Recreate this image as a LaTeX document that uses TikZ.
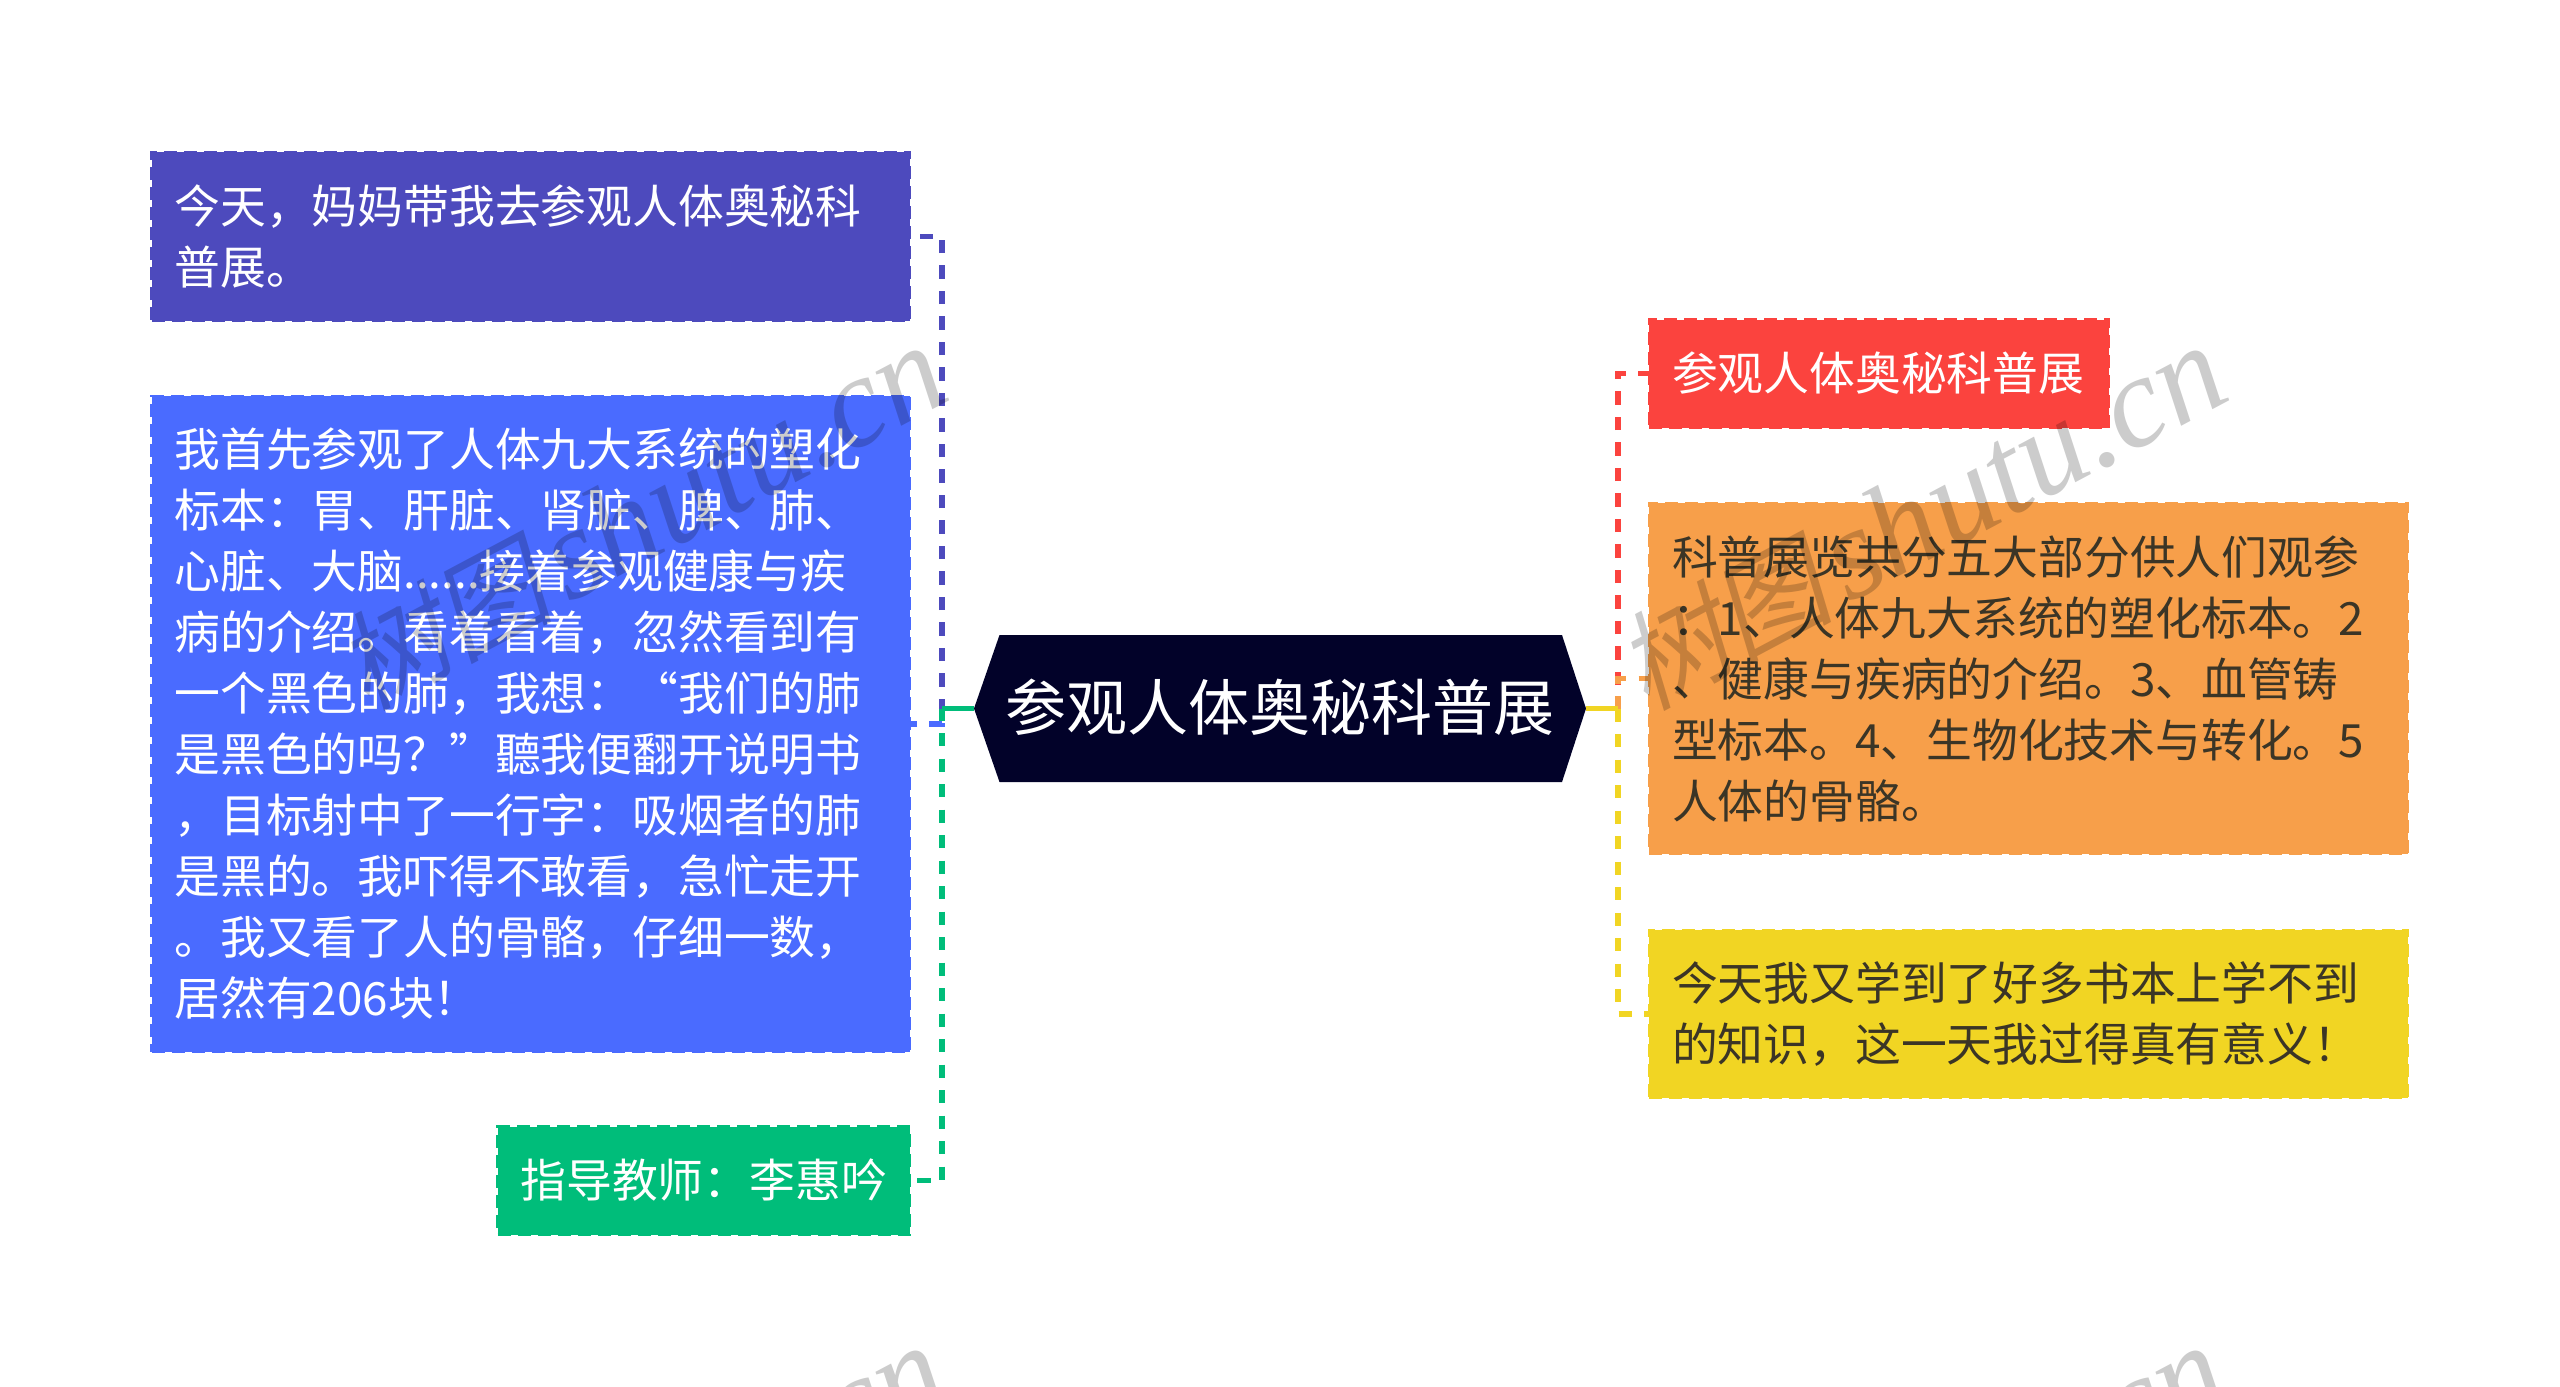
\documentclass[tikz,border=0pt]{standalone}
\usepackage{fontspec}
\newfontfamily\cjk{Noto Sans CJK SC}
\newfontfamily\wmlat{Liberation Serif}[ItalicFont=* Italic]
\newfontfamily\wmcjk{Noto Sans CJK SC}[FakeSlant=0.2]
\definecolor{cA}{HTML}{4D4ABD}
\definecolor{cB}{HTML}{4A6BFF}
\definecolor{cC}{HTML}{00BD7A}
\definecolor{cD}{HTML}{FB433E}
\definecolor{cE}{HTML}{F79F4A}
\definecolor{cF}{HTML}{F1D523}
\definecolor{cRoot}{HTML}{020229}
\definecolor{cDark}{HTML}{3B3526}
\tikzset{
  topic/.style={rectangle,fill=#1,draw=#1,dashed,dash pattern=on 13pt off 7pt,line width=2.5pt,
    inner xsep=0pt,inner ysep=0pt,outer sep=0pt,align=left,
    font=\cjk\fontsize{45.8}{61}\selectfont},
  conn/.style={draw=#1,line width=5.5pt,dash pattern=on 13.3pt off 12.2pt,line cap=butt},
  stem/.style={draw=#1,line width=5.5pt},
  wmark/.style={text=black,opacity=.2,rotate=28,anchor=east,inner sep=0pt}
}
\begin{document}
\begin{tikzpicture}[x=1pt,y=-1pt]
\useasboundingbox (0,0) rectangle (2560,1387);
\fill[white] (0,0) rectangle (2560,1387);
% root hexagon
\coordinate (rootL) at (974,708.5);
\coordinate (rootR) at (1586,708.5);
\coordinate (hubL) at (942,708.5);
\coordinate (hubR) at (1618,708.5);
\fill[cRoot] (rootL) -- (999.5,635) -- (1562,635) -- (rootR) -- (1562,782) -- (999.5,782) -- cycle;
\node[text=white,font=\cjk\fontsize{61}{70}\selectfont,inner sep=0pt] (root) at (1280,707.5) {参观人体奥秘科普展};
% left boxes
\node[topic=cA,text=white,minimum width=758pt,minimum height=169pt,text width=712pt] (a) at (530.5,236.5)
  {今天，妈妈带我去参观人体奥秘科\\普展。};
\node[topic=cB,text=white,minimum width=758pt,minimum height=656pt,text width=712pt] (b) at (530.5,724)
  {我首先参观了人体九大系统的塑化\\标本：胃、肝脏、肾脏、脾、肺、\\心脏、大脑......接着参观健康与疾\\病的介绍。看着看着，忽然看到有\\一个黑色的肺，我想：“我们的肺\\是黑色的吗？”聽我便翻开说明书\\，目标射中了一行字：吸烟者的肺\\是黑的。我吓得不敢看，急忙走开\\。我又看了人的骨骼，仔细一数，\\居然有206块！};
\node[topic=cC,text=white,minimum width=412pt,minimum height=108pt,text width=366pt] (c) at (703.5,1180.5)
  {指导教师：李惠吟};
% right boxes
\node[topic=cD,text=white,minimum width=460pt,minimum height=108pt,text width=414pt] (d) at (1879,373.5)
  {参观人体奥秘科普展};
\node[topic=cE,text=cDark,minimum width=759pt,minimum height=351pt,text width=713pt] (e) at (2028.5,678.5)
  {科普展览共分五大部分供人们观参\\：1、人体九大系统的塑化标本。2\\、健康与疾病的介绍。3、血管铸\\型标本。4、生物化技术与转化。5\\人体的骨骼。};
\node[topic=cF,text=cDark,minimum width=759pt,minimum height=168pt,text width=713pt] (f) at (2028.5,1014)
  {今天我又学到了好多书本上学不到\\的知识，这一天我过得真有意义！};
% connectors
\draw[conn=cA,dash phase=3.5pt] (hubL) |- (a.east);
\draw[conn=cB,dash phase=10.7pt] (hubL) |- (b.east);
\draw[conn=cC,dash phase=1pt] (hubL) |- (c.east);
\draw[conn=cD,dash phase=2pt] (hubR) |- (d.west);
\draw[conn=cE,dash phase=0.5pt] (hubR) |- (e.west);
\draw[conn=cF] (hubR) |- (f.west);
\draw[stem=cC] (rootL) -- (hubL);
\draw[stem=cF] (rootR) -- (hubR);
% watermark
\foreach \n/\x/\y in {1/936/362,2/2216/362,3/936/1362,4/2216/1362}{
  \node[wmark] (wm\n) at (\x,\y) {{\wmcjk\fontsize{108}{108}\selectfont 树图}\hspace{14pt}{\wmlat\itshape\fontsize{130}{130}\selectfont shutu.cn}};
}
\end{tikzpicture}
\end{document}
